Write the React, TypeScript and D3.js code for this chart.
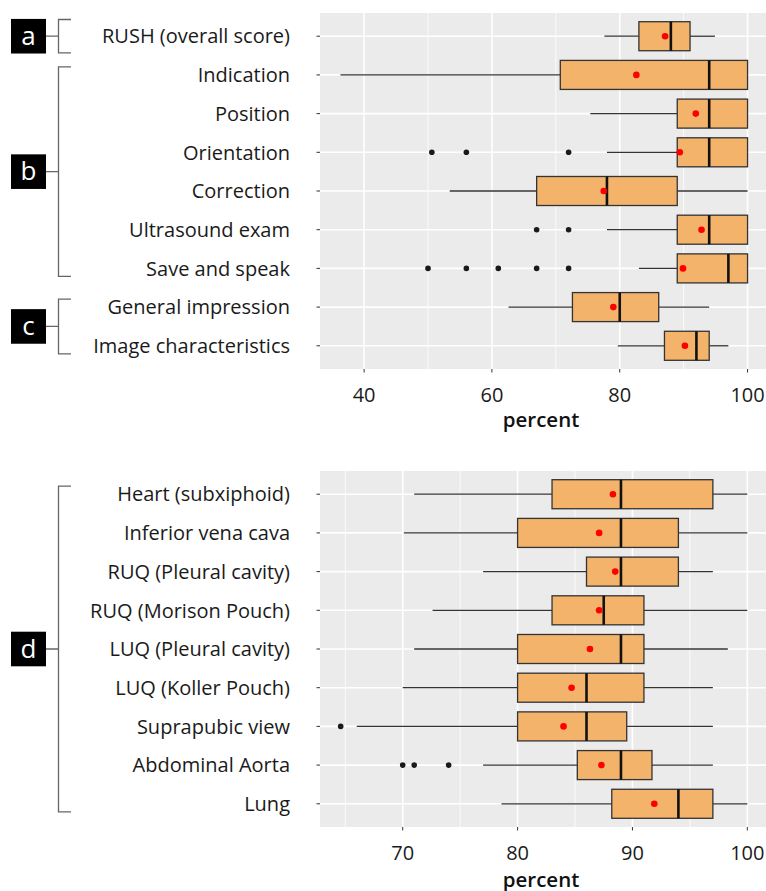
import React, { useEffect, useRef } from 'react';
import * as d3 from 'd3';

// top panel
const topLabels = ['RUSH (overall score)', 'Indication', 'Position', 'Orientation', 'Correction',
  'Ultrasound exam', 'Save and speak', 'General impression', 'Image characteristics'];
const topLow = [77.6, 36.3, 75.4, 78.0, 53.4, 78.0, 83.0, 62.6, 79.7];
const topQ1 = [83.0, 70.7, 89.0, 89.0, 67.0, 89.0, 89.0, 72.6, 87.0];
const topMedian = [88.0, 94.0, 94.0, 94.0, 78.0, 94.0, 97.0, 80.0, 92.0];
const topQ3 = [91.0, 100, 100, 100, 89.0, 100, 100, 86.1, 94.0];
const topHigh = [94.9, 100, 100, 100, 100, 100, 100, 94.0, 97.0];
const topMean = [87.1, 82.6, 91.9, 89.4, 77.5, 92.8, 89.9, 79.0, 90.2];
const topOutliers = [[], [], [], [50.6, 56.0, 72.0], [], [67.0, 72.0], [50.0, 56.0, 61.0, 67.0, 72.0], [], []];
const topTicks = [40, 60, 80, 100];

// bottom panel
const bottomLabels = ['Heart (subxiphoid)', 'Inferior vena cava ', 'RUQ (Pleural cavity)', 'RUQ (Morison Pouch)',
  'LUQ (Pleural cavity)', 'LUQ (Koller Pouch)', 'Suprapubic view', 'Abdominal Aorta', 'Lung'];
const bottomLow = [71.0, 70.1, 77.0, 72.6, 71.0, 70.0, 66.0, 77.0, 78.6];
const bottomQ1 = [83.0, 80.0, 86.0, 83.0, 80.0, 80.0, 80.0, 85.2, 88.2];
const bottomMedian = [89.0, 89.0, 89.0, 87.5, 89.0, 86.0, 86.0, 89.0, 94.0];
const bottomQ3 = [97.0, 94.0, 94.0, 91.0, 91.0, 91.0, 89.5, 91.7, 97.0];
const bottomHigh = [100, 100, 97.0, 100, 98.3, 97.0, 97.0, 97.0, 100];
const bottomMean = [88.3, 87.1, 88.5, 87.1, 86.3, 84.7, 84.0, 87.3, 91.9];
const bottomOutliers = [[], [], [], [], [], [], [64.6], [70.0, 71.0, 74.0], []];
const bottomTicks = [70, 80, 90, 100];

// groups: letter, first row, last row
const topGroups = [['a', 0, 0], ['b', 1, 6], ['c', 7, 8]];
const bottomGroups = [['d', 0, 8]];

const FONT = '"Open Sans", "Noto Sans", sans-serif';

function drawPanel(svg, opts) {
  const { top, labels, low, q1, median, q3, high, mean, outliers, ticks, minorTicks, domain, groups, titleOffset } = opts;
  const left = 320, right = 768, height = 356;
  const x = d3.scaleLinear().domain(domain).range([left, right]);
  const y = d3.scalePoint().domain(labels).range([top, top + height]).padding(0.6);
  const step = y.step();
  const bw = step * 0.75;

  const g = svg.append('g');
  g.append('rect').attr('x', left).attr('y', top).attr('width', right - left).attr('height', height).attr('fill', '#EBEBEB');

  g.selectAll('.minor').data(minorTicks).enter().append('line')
    .attr('x1', d => x(d)).attr('x2', d => x(d)).attr('y1', top).attr('y2', top + height)
    .attr('stroke', '#fff').attr('stroke-width', 0.8);
  g.selectAll('.major').data(ticks).enter().append('line')
    .attr('x1', d => x(d)).attr('x2', d => x(d)).attr('y1', top).attr('y2', top + height)
    .attr('stroke', '#fff').attr('stroke-width', 1.6);
  g.selectAll('.hgrid').data(labels).enter().append('line')
    .attr('x1', left).attr('x2', right).attr('y1', d => y(d)).attr('y2', d => y(d))
    .attr('stroke', '#fff').attr('stroke-width', 1.6);

  // y ticks and labels
  g.selectAll('.ytick').data(labels).enter().append('line')
    .attr('x1', left - 3.5).attr('x2', left).attr('y1', d => y(d)).attr('y2', d => y(d))
    .attr('stroke', '#333').attr('stroke-width', 1);
  g.selectAll('.ylab').data(labels).enter().append('text')
    .attr('x', 290).attr('y', d => y(d)).attr('dy', '0.36em')
    .attr('text-anchor', 'end').attr('font-family', FONT).attr('font-size', 20).attr('fill', '#1a1a1a')
    .text(d => d);

  // x ticks and labels
  g.selectAll('.xtick').data(ticks).enter().append('line')
    .attr('x1', d => x(d)).attr('x2', d => x(d)).attr('y1', top + height).attr('y2', top + height + 3.5)
    .attr('stroke', '#333').attr('stroke-width', 1);
  g.selectAll('.xlab').data(ticks).enter().append('text')
    .attr('x', d => x(d)).attr('y', top + height + 33)
    .attr('text-anchor', 'middle').attr('font-family', FONT).attr('font-size', 20).attr('fill', '#1a1a1a')
    .text(d => d);
  g.append('text')
    .attr('x', (left + 766) / 2 - 2).attr('y', top + height + titleOffset)
    .attr('text-anchor', 'middle').attr('font-family', FONT).attr('font-size', 20.5).attr('font-weight', 600)
    .attr('fill', '#111').text('percent');

  // boxes
  labels.forEach((lab, i) => {
    const cy = y(lab);
    g.append('line').attr('x1', x(low[i])).attr('x2', x(q1[i])).attr('y1', cy).attr('y2', cy)
      .attr('stroke', '#333').attr('stroke-width', 1.3);
    g.append('line').attr('x1', x(q3[i])).attr('x2', x(high[i])).attr('y1', cy).attr('y2', cy)
      .attr('stroke', '#333').attr('stroke-width', 1.3);
    g.append('rect').attr('x', x(q1[i])).attr('y', cy - bw / 2).attr('width', x(q3[i]) - x(q1[i])).attr('height', bw)
      .attr('fill', '#F4B36A').attr('stroke', '#333').attr('stroke-width', 1.3);
    g.append('line').attr('x1', x(median[i])).attr('x2', x(median[i])).attr('y1', cy - bw / 2).attr('y2', cy + bw / 2)
      .attr('stroke', '#111').attr('stroke-width', 2.6);
    outliers[i].forEach(v => {
      g.append('circle').attr('cx', x(v)).attr('cy', cy).attr('r', 2.8).attr('fill', '#1a1a1a');
    });
    g.append('circle').attr('cx', x(mean[i])).attr('cy', cy).attr('r', 3.3).attr('fill', '#FF0000');
  });

  // group brackets
  groups.forEach(([letter, a, b]) => {
    const single = a === b;
    const y0 = y(labels[a]) - (single ? 16.7 : 8);
    const y1 = y(labels[b]) + (single ? 16.7 : 8);
    const mid = (y0 + y1) / 2;
    const bx = 58.5;
    g.append('path')
      .attr('d', `M71,${y0}H${bx}V${y1}H71M46,${mid}H${bx}`)
      .attr('fill', 'none').attr('stroke', '#666').attr('stroke-width', 1.3);
    g.append('rect').attr('x', 11).attr('y', mid - 17.3).attr('width', 35).attr('height', 34.6).attr('fill', '#000');
    g.append('text').attr('x', 28.5).attr('y', mid).attr('dy', '0.33em')
      .attr('text-anchor', 'middle').attr('font-family', FONT).attr('font-size', 26).attr('fill', '#fff')
      .text(letter);
  });
}

const App = () => {
  const svgRef = useRef(null);

  useEffect(() => {
    document.body.style.margin = '0';
    const svg = d3.select(svgRef.current);
    svg.selectAll('*').remove();

    drawPanel(svg, {
      top: 13, labels: topLabels, low: topLow, q1: topQ1, median: topMedian, q3: topQ3, high: topHigh,
      mean: topMean, outliers: topOutliers, ticks: topTicks, minorTicks: [50, 70, 90],
      domain: [33.1, 103.2], groups: topGroups, titleOffset: 58,
    });
    drawPanel(svg, {
      top: 471, labels: bottomLabels, low: bottomLow, q1: bottomQ1, median: bottomMedian, q3: bottomQ3, high: bottomHigh,
      mean: bottomMean, outliers: bottomOutliers, ticks: bottomTicks, minorTicks: [65, 75, 85, 95],
      domain: [62.8, 101.8], groups: bottomGroups, titleOffset: 59.5,
    });
  }, []);

  return <svg ref={svgRef} width={766} height={891} style={{ display: 'block', background: '#fff' }}></svg>;
};

export default App;
